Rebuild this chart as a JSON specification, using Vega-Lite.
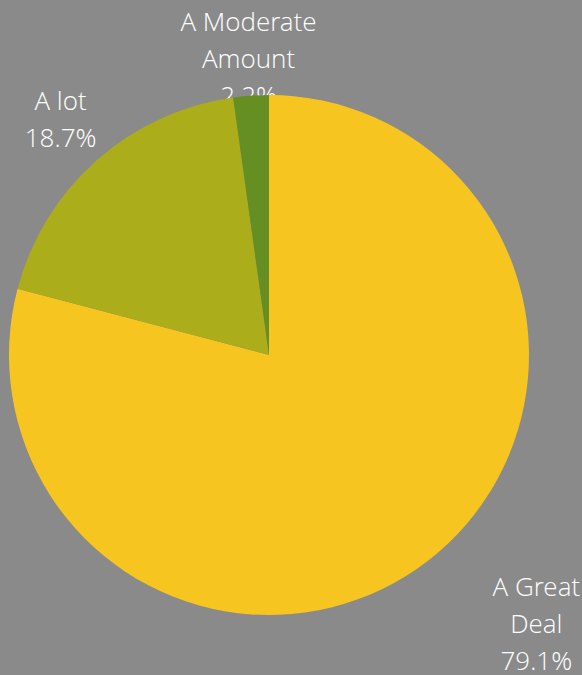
{
  "$schema": "https://vega.github.io/schema/vega-lite/v6.json",
  "width": 538,
  "height": 710,
  "padding": {"left": 0, "top": 0, "right": 44, "bottom": 0},
  "autosize": {"type": "none"},
  "background": "#8a8a8a",
  "config": {"view": {"stroke": null}},
  "data": {
    "values": [
      {"category": "A Great Deal", "value": 79.1, "rank": 1, "label": "A Great\nDeal\n79.1%"},
      {"category": "A lot", "value": 18.7, "rank": 2, "label": "A lot\n18.7%"},
      {"category": "A Moderate Amount", "value": 2.2, "rank": 3, "label": "A Moderate\nAmount\n2.2%"}
    ]
  },
  "encoding": {
    "theta": {"field": "value", "type": "quantitative", "stack": true},
    "order": {"field": "rank", "type": "quantitative"}
  },
  "layer": [
    {
      "mark": {"type": "text", "radius": 379, "dx": 36, "dy": -67, "font": "Open Sans Light, Open Sans", "fontWeight": 300, "fontSize": 26, "lineHeight": 37, "color": "white", "align": "center", "baseline": "middle", "lineBreak": "\n"},
      "encoding": {"text": {"condition": {"test": "datum.category === 'A Great Deal'", "field": "label"}, "value": ""}}
    },
    {
      "mark": {"type": "text", "radius": 314, "dy": -18, "font": "Open Sans Light, Open Sans", "fontWeight": 300, "fontSize": 26, "lineHeight": 37, "color": "white", "align": "center", "baseline": "middle", "lineBreak": "\n"},
      "encoding": {"text": {"condition": {"test": "datum.category === 'A lot'", "field": "label"}, "value": ""}}
    },
    {
      "mark": {"type": "text", "radius": 296, "dy": -37, "font": "Open Sans Light, Open Sans", "fontWeight": 300, "fontSize": 26, "lineHeight": 37, "color": "white", "align": "center", "baseline": "middle", "lineBreak": "\n"},
      "encoding": {"text": {"condition": {"test": "datum.category === 'A Moderate Amount'", "field": "label"}, "value": ""}}
    },
    {
      "mark": {"type": "arc", "outerRadius": 260},
      "encoding": {
        "color": {
          "field": "category",
          "type": "nominal",
          "scale": {"domain": ["A Great Deal", "A lot", "A Moderate Amount"], "range": ["#f7c520", "#abad1b", "#668f23"]},
          "legend": null
        }
      }
    }
  ]
}
